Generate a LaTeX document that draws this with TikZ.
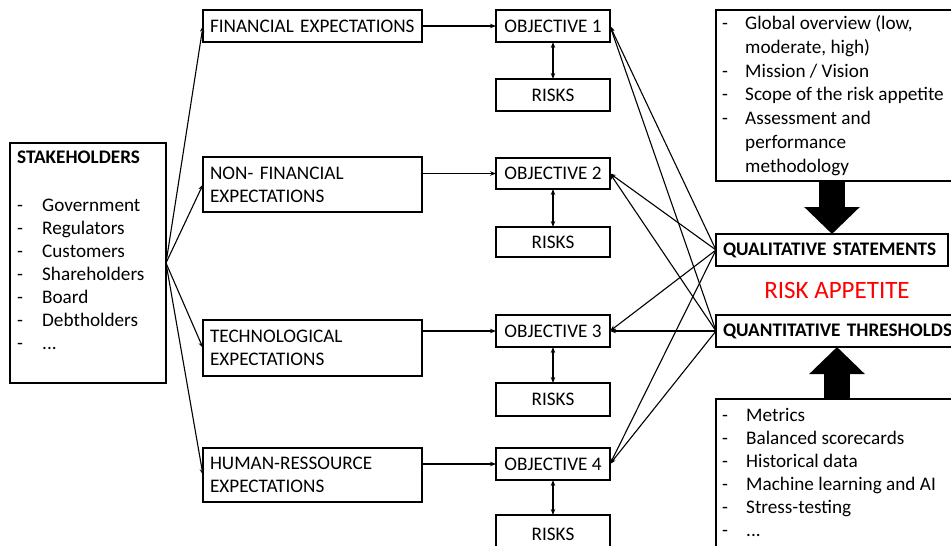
\documentclass[tikz,border=0pt]{standalone}
\usepackage{fontspec}
\setmainfont{Carlito}
\usetikzlibrary{arrows.meta}
\begin{document}
\begin{tikzpicture}[x=1pt,y=-1pt,
  every node/.style={font=\fontsize{19.2}{23}\selectfont, text=black},
  box/.style={draw, line width=1.3pt, anchor=north west, inner sep=0pt, outer sep=0pt},
  expbox/.style={box, minimum width=219pt, minimum height=#1, text width=205pt,
                 align=left, inner xsep=7pt},
  objbox/.style={box, minimum width=114pt, minimum height=#1, align=center},
  infobox/.style={box, minimum width=242pt, minimum height=#1},
  rabox/.style={box, minimum height=32pt, align=left, inner xsep=7pt, font=\fontsize{19.2}{23}\selectfont\bfseries},
  listtext/.style={anchor=base west, inner sep=0pt},
  conn/.style={line width=1.1pt, -{Stealth[length=6pt,width=4.5pt]}},
  dconn/.style={line width=1.1pt, {Stealth[length=6pt,width=4.5pt]}-{Stealth[length=6pt,width=4.5pt]}},
  bigarrow/.style={line width=26pt, -{Triangle[length=27pt,width=54pt]}}
]
\useasboundingbox (0,0) rectangle (951,546);
\clip (0,0) rectangle (951,546);

% stakeholders
\node[box, minimum width=156pt, minimum height=240pt] (stake) at (10,143) {};
\node[listtext] (stakelist) at (17,163) {\begin{tabular}[t]{@{}p{25pt}@{}l@{}}
  \multicolumn{2}{@{}l@{}}{\bfseries STAKEHOLDERS}\\[25pt]
  - & Government\\
  - & Regulators\\
  - & Customers\\
  - & Shareholders\\
  - & Board\\
  - & Debtholders\\
  - & ...
\end{tabular}};

% expectations
\node[expbox=32pt] (fin) at (203,10) {FINANCIAL EXPECTATIONS};
\node[expbox=55pt] (nonfin) at (203,157) {NON- FINANCIAL\\EXPECTATIONS};
\node[expbox=56pt] (tech) at (203,320) {TECHNOLOGICAL\\EXPECTATIONS};
\node[expbox=54pt] (hum) at (203,448) {HUMAN-RESSOURCE\\EXPECTATIONS};

% objectives and risks
\node[objbox=32pt] (obj1) at (496,10) {OBJECTIVE 1};
\node[objbox=32pt] (risk1) at (496,79) {RISKS};
\node[objbox=31pt] (obj2) at (496,158) {OBJECTIVE 2};
\node[objbox=30pt] (risk2) at (496,227) {RISKS};
\node[objbox=32pt] (obj3) at (496,315) {OBJECTIVE 3};
\node[objbox=33pt] (risk3) at (496,383) {RISKS};
\node[objbox=32pt] (obj4) at (496,448) {OBJECTIVE 4};
\node[box, minimum width=114pt, minimum height=46pt] (risk4) at (496,515) {};
\node[anchor=base] (risk4text) at (553,540) {RISKS};

% risk appetite side
\node[infobox=171pt] (infotop) at (716,10) {};
\node[listtext] (infotoplist) at (722,29.5) {\def\arraystretch{1.035}\begin{tabular}[t]{@{}p{23pt}@{}l@{}}
  - & Global overview (low,\\
    & moderate, high)\\
  - & Mission / Vision\\
  - & Scope of the risk appetite\\
  - & Assessment and\\
    & performance\\
    & methodology
\end{tabular}};
\node[rabox, minimum width=232pt, text width=218pt] (qual) at (716,234) {\hbox{QUALITATIVE STATEMENTS}};
\node[text=red, font=\fontsize{25}{30}\selectfont] (ra) at (837,290) {RISK APPETITE};
\node[rabox, minimum width=242pt, text width=228pt] (quant) at (716,315) {\hbox{QUANTITATIVE THRESHOLDS}};
\node[infobox=170pt] (infobot) at (716,399) {};
\node[listtext] (infobotlist) at (722,421) {\begin{tabular}[t]{@{}p{24pt}@{}l@{}}
  - & Metrics\\
  - & Balanced scorecards\\
  - & Historical data\\
  - & Machine learning and AI\\
  - & Stress-testing\\
  - & ...
\end{tabular}};

% block arrows into the two statement boxes
\draw[bigarrow] (infotop.south -| qual.north) -- (qual.north);
\draw[bigarrow] (infobot.north -| quant.south) -- (quant.south);

% stakeholders to expectations
\coordinate (hub) at (stake.east);
\foreach \e in {fin,nonfin,tech,hum}
  \draw[conn] (hub) -- (\e.west);

% expectations to objectives
\draw[conn] (fin.east |- obj1.west) -- (obj1.west);
\draw[conn] (nonfin.east |- obj2.west) -- (obj2.west);
\draw[conn] (tech.east |- obj3.west) -- (obj3.west);
\draw[conn] (hum.east |- obj4.west) -- (obj4.west);

% objectives and their risks
\draw[dconn] (obj1.south) -- (risk1.north);
\draw[dconn] (obj2.south) -- (risk2.north);
\draw[dconn] (obj3.south) -- (risk3.north);
\draw[dconn] (obj4.south) -- (risk4.north);

% statements and thresholds feed every objective
\foreach \o in {obj1,obj2,obj3,obj4} {
  \draw[conn] (qual.west) -- (\o.east);
  \draw[conn] (quant.west) -- (\o.east);
}
\end{tikzpicture}
\end{document}
